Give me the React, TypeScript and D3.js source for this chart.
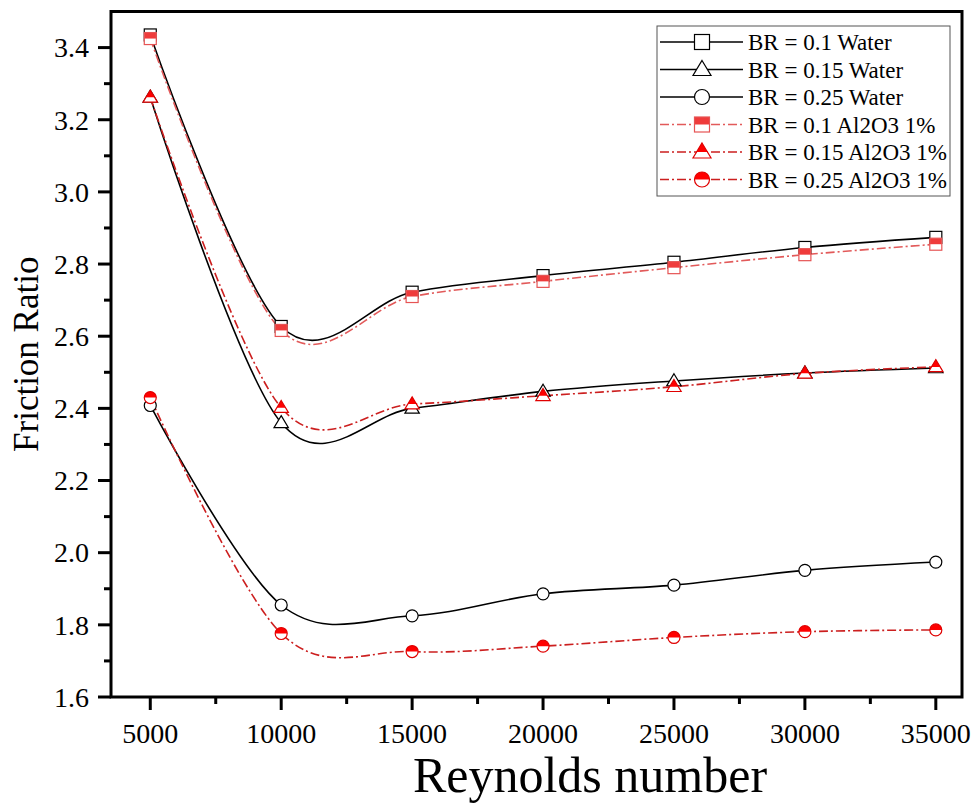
import React from "react";
import * as d3 from "d3";

// data
const reynolds = [5000, 10000, 15000, 20000, 25000, 30000, 35000];
const br01Water = [3.435, 2.627, 2.722, 2.768, 2.805, 2.846, 2.874];
const br015Water = [3.262, 2.36, 2.4, 2.447, 2.476, 2.498, 2.512];
const br025Water = [2.408, 1.855, 1.825, 1.886, 1.91, 1.951, 1.974];
const br01Al = [3.425, 2.616, 2.71, 2.752, 2.79, 2.826, 2.855];
const br015Al = [3.262, 2.402, 2.412, 2.435, 2.46, 2.497, 2.515];
const br025Al = [2.43, 1.776, 1.726, 1.741, 1.765, 1.781, 1.786];

const yTicks = [1.6, 1.8, 2.0, 2.2, 2.4, 2.6, 2.8, 3.0, 3.2, 3.4];
const yMinor = [1.7, 1.9, 2.1, 2.3, 2.5, 2.7, 2.9, 3.1, 3.3];
const xTicks = [5000, 10000, 15000, 20000, 25000, 30000, 35000];
const xMinor = [7500, 12500, 17500, 22500, 27500, 32500];

type Shape = "square" | "triangle" | "circle";

const series = [
  { label: "BR = 0.1 Water", values: br01Water, shape: "square" as Shape, half: false, line: "#000", stroke: "#000", fill: "#fff", dash: "" },
  { label: "BR = 0.15 Water", values: br015Water, shape: "triangle" as Shape, half: false, line: "#000", stroke: "#000", fill: "#fff", dash: "" },
  { label: "BR = 0.25 Water", values: br025Water, shape: "circle" as Shape, half: false, line: "#000", stroke: "#000", fill: "#fff", dash: "" },
  { label: "BR = 0.1 Al2O3 1%", values: br01Al, shape: "square" as Shape, half: true, line: "#e25a5a", stroke: "#e65454", fill: "#ef3b3b", dash: "9,3,2,3" },
  { label: "BR = 0.15 Al2O3 1%", values: br015Al, shape: "triangle" as Shape, half: true, line: "#cc1f1f", stroke: "#e00000", fill: "#ff0000", dash: "9,3,2,3" },
  { label: "BR = 0.25 Al2O3 1%", values: br025Al, shape: "circle" as Shape, half: true, line: "#cc1f1f", stroke: "#e00000", fill: "#ff0000", dash: "9,3,2,3" },
];

function Marker(props: { shape: Shape; x: number; y: number; size: number; half: boolean; stroke: string; fill: string }) {
  const { shape, x, y, size, half, stroke, fill } = props;
  const s = size / 2;
  const top = half ? fill : "#fff";
  if (shape === "square") {
    return (
      <g>
        <rect x={x - s} y={y - s} width={size} height={size} fill="#fff" />
        <rect x={x - s} y={y - s} width={size} height={s} fill={top} />
        <rect x={x - s} y={y - s} width={size} height={size} fill="none" stroke={stroke} strokeWidth={1.2} />
      </g>
    );
  }
  if (shape === "circle") {
    return (
      <g>
        <circle cx={x} cy={y} r={s} fill="#fff" />
        <path d={`M${x - s},${y} A${s},${s} 0 0 1 ${x + s},${y} Z`} fill={top} />
        <circle cx={x} cy={y} r={s} fill="none" stroke={stroke} strokeWidth={1.2} />
      </g>
    );
  }
  // triangle
  const w = size * 1.2;
  const h = size * 1.0;
  const ty = y - h * 0.6;
  const by = y + h * 0.4;
  const my = ty + h * 0.6;
  const t = 0.6;
  return (
    <g>
      <path d={`M${x},${ty} L${x + w / 2},${by} L${x - w / 2},${by} Z`} fill="#fff" />
      <path d={`M${x},${ty} L${x + (w / 2) * t},${my} L${x - (w / 2) * t},${my} Z`} fill={top} />
      <path d={`M${x},${ty} L${x + w / 2},${by} L${x - w / 2},${by} Z`} fill="none" stroke={stroke} strokeWidth={1.2} />
    </g>
  );
}

export default function App() {
  const width = 976;
  const height = 806;
  const left = 111;
  const right = 962;
  const top = 11.5;
  const bottom = 697;

  const x = d3.scaleLinear().domain([3500, 36000]).range([left, right]);
  const y = d3.scaleLinear().domain([1.6, 3.5]).range([bottom, top]);

  const line = d3
    .line<number>()
    .x((_, i) => x(reynolds[i]))
    .y((d) => y(d))
    .curve(d3.curveCardinal.tension(0));

  const font = "'Liberation Serif', 'Times New Roman', serif";
  const legX = 657;
  const legY = 26;
  const rowY = (i: number) => 42 + i * 27.5;

  return (
    <div style={{ position: "absolute", left: 0, top: 0 }}>
      <svg width={width} height={height} style={{ display: "block", background: "#fff" }} fontFamily={font}>
        <defs>
          <clipPath id="plot">
            <rect x={left} y={top} width={right - left} height={bottom - top} />
          </clipPath>
        </defs>

        {/* curves */}
        <g clipPath="url(#plot)">
          {series.map((s) => (
            <path
              key={s.label}
              d={line(s.values) || ""}
              fill="none"
              stroke={s.line}
              strokeWidth={1.6}
              strokeDasharray={s.dash}
            />
          ))}
        </g>

        {/* markers */}
        {series.map((s) =>
          s.values.map((v, i) => (
            <Marker
              key={s.label + i}
              shape={s.shape}
              x={x(reynolds[i])}
              y={y(v)}
              size={12}
              half={s.half}
              stroke={s.stroke}
              fill={s.fill}
            />
          ))
        )}

        {/* frame */}
        <rect x={left} y={top} width={right - left} height={bottom - top} fill="none" stroke="#000" strokeWidth={3} />

        {/* y axis ticks */}
        {yTicks.map((t) => (
          <g key={"y" + t}>
            <line x1={left - 13} x2={left} y1={y(t)} y2={y(t)} stroke="#000" strokeWidth={3} />
            <text x={left - 22} y={y(t)} dy="0.35em" textAnchor="end" fontSize={28}>
              {t.toFixed(1)}
            </text>
          </g>
        ))}
        {yMinor.map((t) => (
          <line key={"ym" + t} x1={left - 7} x2={left} y1={y(t)} y2={y(t)} stroke="#000" strokeWidth={3} />
        ))}

        {/* x axis ticks */}
        {xTicks.map((t) => (
          <g key={"x" + t}>
            <line x1={x(t)} x2={x(t)} y1={bottom} y2={bottom + 13} stroke="#000" strokeWidth={3} />
            <text x={x(t)} y={bottom + 46} textAnchor="middle" fontSize={28}>
              {t}
            </text>
          </g>
        ))}
        {xMinor.map((t) => (
          <line key={"xm" + t} x1={x(t)} x2={x(t)} y1={bottom} y2={bottom + 7} stroke="#000" strokeWidth={3} />
        ))}

        {/* axis titles */}
        <text x={590} y={792} textAnchor="middle" fontSize={50}>
          Reynolds number
        </text>
        <text transform={`translate(38, ${(top + bottom) / 2}) rotate(-90)`} textAnchor="middle" fontSize={35}>
          Friction Ratio
        </text>

        {/* legend */}
        <rect x={legX} y={legY} width={293} height={170} fill="#fff" stroke="#555" strokeWidth={1} />
        {series.map((s, i) => (
          <g key={"leg" + i}>
            <line
              x1={660}
              x2={743}
              y1={rowY(i)}
              y2={rowY(i)}
              stroke={s.line}
              strokeWidth={1.6}
              strokeDasharray={s.dash}
            />
            <Marker shape={s.shape} x={702} y={rowY(i)} size={15} half={s.half} stroke={s.stroke} fill={s.fill} />
            <text x={748} y={rowY(i)} dy="0.35em" fontSize={23}>
              {s.label}
            </text>
          </g>
        ))}
      </svg>
    </div>
  );
}
